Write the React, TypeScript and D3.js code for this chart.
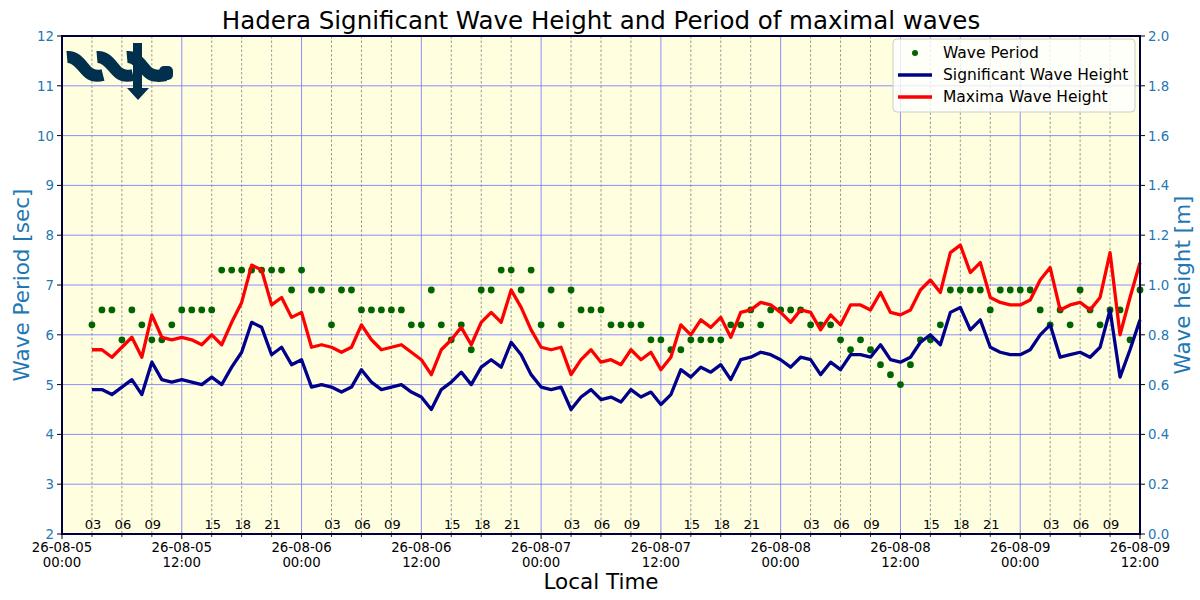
import { FC, useEffect, useRef } from "react";
import * as d3 from "d3";

// hourly samples, first one at 26-08-05 03:00
const startHour = 3;

// significant wave height [m]
const hsData = [
  0.58, 0.58, 0.56, 0.59, 0.62, 0.56, 0.69, 0.62, 0.61, 0.62,
  0.61, 0.6, 0.63, 0.6, 0.67, 0.73, 0.85, 0.83, 0.72, 0.75,
  0.68, 0.7, 0.59, 0.6, 0.59, 0.57, 0.59, 0.66, 0.61, 0.58,
  0.59, 0.6, 0.57, 0.55, 0.5, 0.58, 0.61, 0.65, 0.6, 0.67,
  0.7, 0.67, 0.77, 0.72, 0.64, 0.59, 0.58, 0.59, 0.5, 0.55,
  0.58, 0.54, 0.55, 0.53, 0.58, 0.55, 0.57, 0.52, 0.56, 0.66,
  0.63, 0.67, 0.65, 0.68, 0.62, 0.7, 0.71, 0.73, 0.72, 0.7,
  0.67, 0.71, 0.7, 0.64, 0.69, 0.66, 0.72, 0.72, 0.71, 0.76,
  0.7, 0.69, 0.71, 0.77, 0.8, 0.76, 0.89, 0.91, 0.82, 0.86,
  0.75, 0.73, 0.72, 0.72, 0.74, 0.8, 0.84, 0.71, 0.72, 0.73,
  0.71, 0.75, 0.9, 0.63, 0.74, 0.86,
];

// maxima wave height [m]
const hmaxData = [
  0.74, 0.74, 0.71, 0.75, 0.79, 0.71, 0.88, 0.79, 0.78, 0.79,
  0.78, 0.76, 0.8, 0.76, 0.85, 0.93, 1.08, 1.06, 0.92, 0.95,
  0.87, 0.89, 0.75, 0.76, 0.75, 0.73, 0.75, 0.84, 0.78, 0.74,
  0.75, 0.76, 0.73, 0.7, 0.64, 0.74, 0.78, 0.83, 0.76, 0.85,
  0.89, 0.85, 0.98, 0.91, 0.82, 0.75, 0.74, 0.75, 0.64, 0.7,
  0.74, 0.69, 0.7, 0.68, 0.74, 0.7, 0.73, 0.66, 0.71, 0.84,
  0.8, 0.86, 0.83, 0.87, 0.79, 0.89, 0.9, 0.93, 0.92, 0.89,
  0.85, 0.9, 0.89, 0.82, 0.88, 0.84, 0.92, 0.92, 0.9, 0.97,
  0.89, 0.88, 0.9, 0.98, 1.02, 0.97, 1.13, 1.16, 1.05, 1.09,
  0.95, 0.93, 0.92, 0.92, 0.94, 1.02, 1.07, 0.9, 0.92, 0.93,
  0.9, 0.95, 1.13, 0.8, 0.95, 1.09,
];

// period of maximal waves [sec]
const periodData = [
  6.2, 6.5, 6.5, 5.9, 6.5, 6.2, 5.9, 5.9, 6.2, 6.5,
  6.5, 6.5, 6.5, 7.3, 7.3, 7.3, 7.3, 7.3, 7.3, 7.3,
  6.9, 7.3, 6.9, 6.9, 6.2, 6.9, 6.9, 6.5, 6.5, 6.5,
  6.5, 6.5, 6.2, 6.2, 6.9, 6.2, 5.9, 6.2, 5.7, 6.9,
  6.9, 7.3, 7.3, 6.9, 7.3, 6.2, 6.9, 6.2, 6.9, 6.5,
  6.5, 6.5, 6.2, 6.2, 6.2, 6.2, 5.9, 5.9, 5.7, 5.7,
  5.9, 5.9, 5.9, 5.9, 6.2, 6.2, 6.5, 6.2, 6.5, 6.5,
  6.5, 6.5, 6.2, 6.2, 6.2, 5.9, 5.7, 5.9, 5.7, 5.4,
  5.2, 5.0, 5.4, 5.9, 5.9, 6.2, 6.9, 6.9, 6.9, 6.9,
  6.5, 6.9, 6.9, 6.9, 6.9, 6.5, 6.2, 6.5, 6.2, 6.9,
  6.5, 6.2, 6.5, 6.5, 5.9, 6.9,
];

// x-axis labels every 12 hours
const majorDates = [
  "26-08-05", "26-08-05", "26-08-06", "26-08-06", "26-08-07",
  "26-08-07", "26-08-08", "26-08-08", "26-08-09", "26-08-09",
];
const majorTimes = [
  "00:00", "12:00", "00:00", "12:00", "00:00",
  "12:00", "00:00", "12:00", "00:00", "12:00",
];
const minorLabels = ["03", "06", "09", "15", "18", "21"];

const font = "DejaVu Sans, sans-serif";
const axisBlue = "#1f77b4";
const logoColor = "#00304d";

const App: FC = () => {
  const ref = useRef<SVGSVGElement>(null);
  const width = 1200;
  const height = 600;
  const margin = { top: 36, right: 60, bottom: 66, left: 62 };

  const runChart = () => {
    const svg = d3.select(ref.current);
    svg.selectAll("*").remove();

    const x0 = margin.left;
    const x1 = width - margin.right;
    const y0 = height - margin.bottom;
    const y1 = margin.top;

    const x = d3.scaleLinear().domain([0, 108]).range([x0, x1]);
    const yPer = d3.scaleLinear().domain([2, 12]).range([y0, y1]);
    const yHs = d3.scaleLinear().domain([0, 2]).range([y0, y1]);

    const hourOf = (i: number) => startHour + i;

    // plot background
    svg
      .append("rect")
      .attr("x", x0)
      .attr("y", y1)
      .attr("width", x1 - x0)
      .attr("height", y0 - y1)
      .attr("fill", "#ffffe0");

    const majorHours = d3.range(0, 109, 12);
    const minorHours = d3.range(0, 109, 3).filter((h) => h % 12 !== 0);

    // minor grid (3h, dashed)
    svg
      .append("g")
      .selectAll()
      .data(minorHours)
      .join("line")
      .attr("x1", (d) => x(d))
      .attr("x2", (d) => x(d))
      .attr("y1", y1)
      .attr("y2", y0)
      .attr("stroke", "#808080")
      .attr("stroke-width", 0.8)
      .attr("stroke-dasharray", "2.5,2");

    // major grid
    svg
      .append("g")
      .selectAll()
      .data(majorHours)
      .join("line")
      .attr("x1", (d) => x(d))
      .attr("x2", (d) => x(d))
      .attr("y1", y1)
      .attr("y2", y0)
      .attr("stroke", "#8080ff")
      .attr("stroke-width", 0.9);
    svg
      .append("g")
      .selectAll()
      .data(d3.range(3, 12))
      .join("line")
      .attr("x1", x0)
      .attr("x2", x1)
      .attr("y1", (d) => yPer(d))
      .attr("y2", (d) => yPer(d))
      .attr("stroke", "#8080ff")
      .attr("stroke-width", 0.9);

    // minor hour labels inside the plot
    svg
      .append("g")
      .attr("font-family", font)
      .attr("font-size", 13)
      .attr("text-anchor", "middle")
      .selectAll()
      .data(minorHours)
      .join("text")
      .attr("x", (d) => x(d) + 1)
      .attr("y", y0 - 5)
      .text((d) => minorLabels.find((l) => +l === d % 24) ?? "");

    // logo (waves + arrow)
    const logo = svg.append("g").attr("fill", "none").attr("stroke", logoColor);
    [67, 97].forEach((lx) => {
      logo
        .append("path")
        .attr("stroke-width", 12)
        .attr("d", `M${lx},57 C${lx + 11},56 ${lx + 16},69 ${lx + 22},73 C${lx + 27},77 ${lx + 32},76 ${lx + 36},75`);
    });
    logo
      .append("path")
      .attr("stroke-width", 12)
      .attr("d", "M127,57 C138,56 143,69 149,73 C154,77 160,76 166,75");
    logo
      .append("rect")
      .attr("x", 159)
      .attr("y", 66)
      .attr("width", 14)
      .attr("height", 14)
      .attr("rx", 5)
      .attr("fill", logoColor)
      .attr("stroke", "none");
    logo
      .append("path")
      .attr("fill", logoColor)
      .attr("stroke", "none")
      .attr("d", "M133,43 L142,43 L142,88 L149,88 L138,100 L127,88 L133,88 Z");

    // series
    const lineHs = d3
      .line<number>()
      .x((_, i) => x(hourOf(i)))
      .y((d) => yHs(d));

    svg
      .append("g")
      .selectAll()
      .data(periodData)
      .join("circle")
      .attr("cx", (_, i) => x(hourOf(i)))
      .attr("cy", (d) => yPer(d))
      .attr("r", 3.4)
      .attr("fill", "#006400");

    svg
      .append("path")
      .datum(hsData)
      .attr("fill", "none")
      .attr("stroke", "#00008b")
      .attr("stroke-width", 3.3)
      .attr("stroke-linejoin", "round")
      .attr("d", lineHs);

    svg
      .append("path")
      .datum(hmaxData)
      .attr("fill", "none")
      .attr("stroke", "#ff0000")
      .attr("stroke-width", 3.3)
      .attr("stroke-linejoin", "round")
      .attr("d", lineHs);

    // frame
    svg
      .append("rect")
      .attr("x", x0)
      .attr("y", y1)
      .attr("width", x1 - x0)
      .attr("height", y0 - y1)
      .attr("fill", "none")
      .attr("stroke", "#000040")
      .attr("stroke-width", 2);

    // left axis
    const left = svg.append("g").attr("font-family", font).attr("font-size", 13.3);
    left
      .selectAll("line")
      .data(d3.range(2, 13))
      .join("line")
      .attr("x1", x0 - 5)
      .attr("x2", x0)
      .attr("y1", (d) => yPer(d))
      .attr("y2", (d) => yPer(d))
      .attr("stroke", "#000");
    left
      .selectAll("text")
      .data(d3.range(2, 13))
      .join("text")
      .attr("x", x0 - 8)
      .attr("y", (d) => yPer(d) + 5)
      .attr("text-anchor", "end")
      .attr("fill", axisBlue)
      .text((d) => d);

    // right axis
    const rightTicks = d3.range(0, 11).map((i) => i * 0.2);
    const right = svg.append("g").attr("font-family", font).attr("font-size", 13.3);
    right
      .selectAll("line")
      .data(rightTicks)
      .join("line")
      .attr("x1", x1)
      .attr("x2", x1 + 5)
      .attr("y1", (d) => yHs(d))
      .attr("y2", (d) => yHs(d))
      .attr("stroke", "#000");
    right
      .selectAll("text")
      .data(rightTicks)
      .join("text")
      .attr("x", x1 + 8)
      .attr("y", (d) => yHs(d) + 5)
      .attr("fill", axisBlue)
      .text((d) => d.toFixed(1));

    // bottom axis
    const bottom = svg.append("g").attr("font-family", font).attr("font-size", 13.3);
    bottom
      .selectAll("line.minor")
      .data(minorHours)
      .join("line")
      .attr("class", "minor")
      .attr("x1", (d) => x(d))
      .attr("x2", (d) => x(d))
      .attr("y1", y0)
      .attr("y2", y0 + 3)
      .attr("stroke", "#000")
      .attr("stroke-width", 0.8);
    bottom
      .selectAll("line.major")
      .data(majorHours)
      .join("line")
      .attr("class", "major")
      .attr("x1", (d) => x(d))
      .attr("x2", (d) => x(d))
      .attr("y1", y0)
      .attr("y2", y0 + 5)
      .attr("stroke", "#000");
    bottom
      .selectAll("text")
      .data(majorHours)
      .join("text")
      .attr("text-anchor", "middle")
      .call((t) =>
        t
          .append("tspan")
          .attr("x", (d) => x(d))
          .attr("y", y0 + 18)
          .text((_, i) => majorDates[i])
      )
      .call((t) =>
        t
          .append("tspan")
          .attr("x", (d) => x(d))
          .attr("y", y0 + 33)
          .text((_, i) => majorTimes[i])
      );

    // titles
    svg
      .append("text")
      .attr("x", (x0 + x1) / 2)
      .attr("y", 28.5)
      .attr("text-anchor", "middle")
      .attr("font-family", font)
      .attr("font-size", 24.5)
      .text("Hadera Significant Wave Height and Period of maximal waves");
    svg
      .append("text")
      .attr("x", (x0 + x1) / 2)
      .attr("y", 589)
      .attr("text-anchor", "middle")
      .attr("font-family", font)
      .attr("font-size", 21.5)
      .text("Local Time");
    svg
      .append("text")
      .attr("transform", `translate(29,${(y0 + y1) / 2}) rotate(-90)`)
      .attr("text-anchor", "middle")
      .attr("font-family", font)
      .attr("font-size", 21.5)
      .attr("fill", axisBlue)
      .text("Wave Period [sec]");
    svg
      .append("text")
      .attr("transform", `translate(1190,${(y0 + y1) / 2}) rotate(-90)`)
      .attr("text-anchor", "middle")
      .attr("font-family", font)
      .attr("font-size", 21.5)
      .attr("fill", axisBlue)
      .text("Wave height [m]");

    // legend
    const lg = svg.append("g").attr("font-family", font).attr("font-size", 15.5);
    lg.append("rect")
      .attr("x", 893)
      .attr("y", 39)
      .attr("width", 242)
      .attr("height", 73)
      .attr("rx", 4)
      .attr("fill", "#fff")
      .attr("fill-opacity", 0.8)
      .attr("stroke", "#cccccc");
    lg.append("circle").attr("cx", 915).attr("cy", 53).attr("r", 3).attr("fill", "#006400");
    lg.append("line")
      .attr("x1", 898).attr("x2", 932).attr("y1", 75).attr("y2", 75)
      .attr("stroke", "#00008b").attr("stroke-width", 3.3);
    lg.append("line")
      .attr("x1", 898).attr("x2", 932).attr("y1", 97).attr("y2", 97)
      .attr("stroke", "#ff0000").attr("stroke-width", 3.3);
    const legendNames = ["Wave Period", "Significant Wave Height", "Maxima Wave Height"];
    lg.selectAll("text")
      .data(legendNames)
      .join("text")
      .attr("x", 943)
      .attr("y", (_, i) => 58 + i * 22)
      .text((d) => d);
  };

  useEffect(() => {
    runChart();
  }, []);

  return (
    <svg
      ref={ref}
      width={width}
      height={height}
      style={{ position: "absolute", left: 0, top: 0, background: "#fff" }}
    />
  );
};

export default App;
